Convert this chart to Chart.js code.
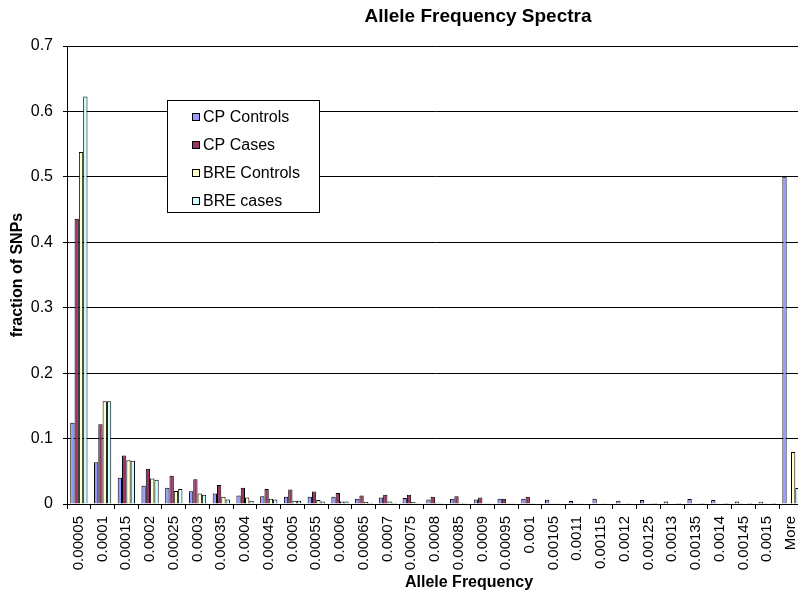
<!DOCTYPE html>
<html>
<head>
<meta charset="utf-8">
<script src="https://cdn.jsdelivr.net/npm/chart.js@4"></script>
<style>
  html, body { margin: 0; padding: 0; background: #fff; overflow: hidden; }
  #wrap { width: 816px; height: 594px; position: relative; }
</style>
</head>
<body>
<div id="wrap"><canvas id="afsChart"></canvas></div>
<script>
// Allele frequency bins (x categories)
const bins = ['0.00005', '0.0001', '0.00015', '0.0002', '0.00025', '0.0003', '0.00035', '0.0004',
  '0.00045', '0.0005', '0.00055', '0.0006', '0.00065', '0.0007', '0.00075', '0.0008', '0.00085',
  '0.0009', '0.00095', '0.001', '0.00105', '0.0011', '0.00115', '0.0012', '0.00125', '0.0013',
  '0.00135', '0.0014', '0.00145', '0.0015', 'More'];

// fraction of SNPs per bin
const cpControls = [0.124, 0.064, 0.040, 0.028, 0.025, 0.0195, 0.016, 0.013, 0.0117, 0.011, 0.011,
  0.011, 0.008, 0.010, 0.009, 0.007, 0.008, 0.007, 0.008, 0.008, 0.0066, 0.0046, 0.008, 0.005,
  0.006, 0.004, 0.0077, 0.006, 0.004, 0.0036, 0.5];
const cpCases = [0.436, 0.122, 0.074, 0.054, 0.043, 0.038, 0.029, 0.025, 0.023, 0.022, 0.019,
  0.017, 0.013, 0.014, 0.014, 0.011, 0.012, 0.010, 0.008, 0.011, 0.001, 0.001, 0.0008, 0.0008,
  0.0006, 0.0006, 0.0006, 0.0005, 0.0005, 0.0005, 0];
const breControls = [0.538, 0.157, 0.067, 0.039, 0.020, 0.016, 0.011, 0.010, 0.008, 0.005, 0.006,
  0.004, 0.003, 0.004, 0.003, 0.002, 0.002, 0.001, 0.001, 0.001, 0.0005, 0.0005, 0.0005, 0.0004,
  0.0004, 0.0003, 0.0003, 0.0003, 0.0002, 0.0002, 0.0796];
const breCases = [0.623, 0.157, 0.066, 0.037, 0.023, 0.014, 0.007, 0.005, 0.007, 0.005, 0.004,
  0.004, 0.002, 0.002, 0.001, 0.001, 0.001, 0.0005, 0.0005, 0.0003, 0.0003, 0.0002, 0.0002, 0.0002,
  0.0001, 0.0001, 0.0001, 0.0001, 0.0001, 0.0001, 0.0246];

const FONT = '"Liberation Sans", Arial, sans-serif';

// draws chart title, axis titles and the boxed legend the way Excel did
const excelDecor = {
  id: 'excelDecor',
  afterDatasetsDraw(chart) {
    const ctx = chart.ctx;
    const area = chart.chartArea;
    ctx.save();
    ctx.fillStyle = '#000';
    ctx.textBaseline = 'middle';
    ctx.textAlign = 'center';

    ctx.font = 'bold 19px ' + FONT;
    ctx.fillText('Allele Frequency Spectra', 478, 17);

    ctx.font = 'bold 16px ' + FONT;
    ctx.fillText('Allele Frequency', 469, 583);

    ctx.save();
    ctx.translate(18, (area.top + area.bottom) / 2);
    ctx.rotate(-Math.PI / 2);
    ctx.fillText('fraction of SNPs', 0, 0);
    ctx.restore();

    // legend box
    const bx = 167, by = 100, bw = 152, bh = 112;
    ctx.fillStyle = '#fff';
    ctx.fillRect(bx, by, bw, bh);
    ctx.strokeStyle = '#000';
    ctx.lineWidth = 1;
    ctx.strokeRect(bx + 0.5, by + 0.5, bw, bh);

    ctx.textAlign = 'left';
    ctx.font = '16px ' + FONT;
    chart.data.datasets.forEach((ds, i) => {
      const y = 117 + i * 28;
      ctx.fillStyle = ds.backgroundColor;
      ctx.fillRect(192, y - 4, 8, 8);
      ctx.strokeRect(192.5, y - 3.5, 7, 7);
      ctx.fillStyle = '#000';
      ctx.fillText(ds.label, 203, y + 1);
    });
    ctx.restore();
  }
};

new Chart(document.getElementById('afsChart').getContext('2d'), {
  type: 'bar',
  data: {
    labels: bins,
    datasets: [
      { label: 'CP Controls', data: cpControls, backgroundColor: '#9999FF' },
      { label: 'CP Cases', data: cpCases, backgroundColor: '#993366' },
      { label: 'BRE Controls', data: breControls, backgroundColor: '#FFFFCC' },
      { label: 'BRE cases', data: breCases, backgroundColor: '#CCFFFF' }
    ]
  },
  options: {
    responsive: true,
    maintainAspectRatio: false,
    animation: false,
    datasets: {
      bar: {
        categoryPercentage: 0.727,
        barPercentage: 1,
        borderColor: '#000',
        borderWidth: 1
      }
    },
    layout: { padding: { top: 46, right: 1, left: 0, bottom: 0 } },
    plugins: {
      legend: { display: false },
      title: { display: false },
      tooltip: { enabled: false }
    },
    scales: {
      x: {
        grid: {
          offset: true,
          drawOnChartArea: false,
          drawTicks: true,
          tickLength: 5,
          color: '#000'
        },
        border: { color: '#000' },
        ticks: {
          autoSkip: false,
          maxRotation: 90,
          minRotation: 90,
          padding: 7,
          color: '#000',
          font: { family: FONT, size: 15 }
        },
        afterFit(scale) { scale.height = 90; }
      },
      y: {
        min: 0,
        max: 0.7,
        grid: {
          color: '#000',
          tickLength: 4
        },
        border: { color: '#000' },
        ticks: {
          stepSize: 0.1,
          padding: 10,
          color: '#000',
          font: { family: FONT, size: 16 },
          callback: v => v === 0 ? '0' : v.toFixed(1)
        },
        afterFit(scale) { scale.width = 67; }
      }
    }
  },
  plugins: [excelDecor]
});
</script>
</body>
</html>
